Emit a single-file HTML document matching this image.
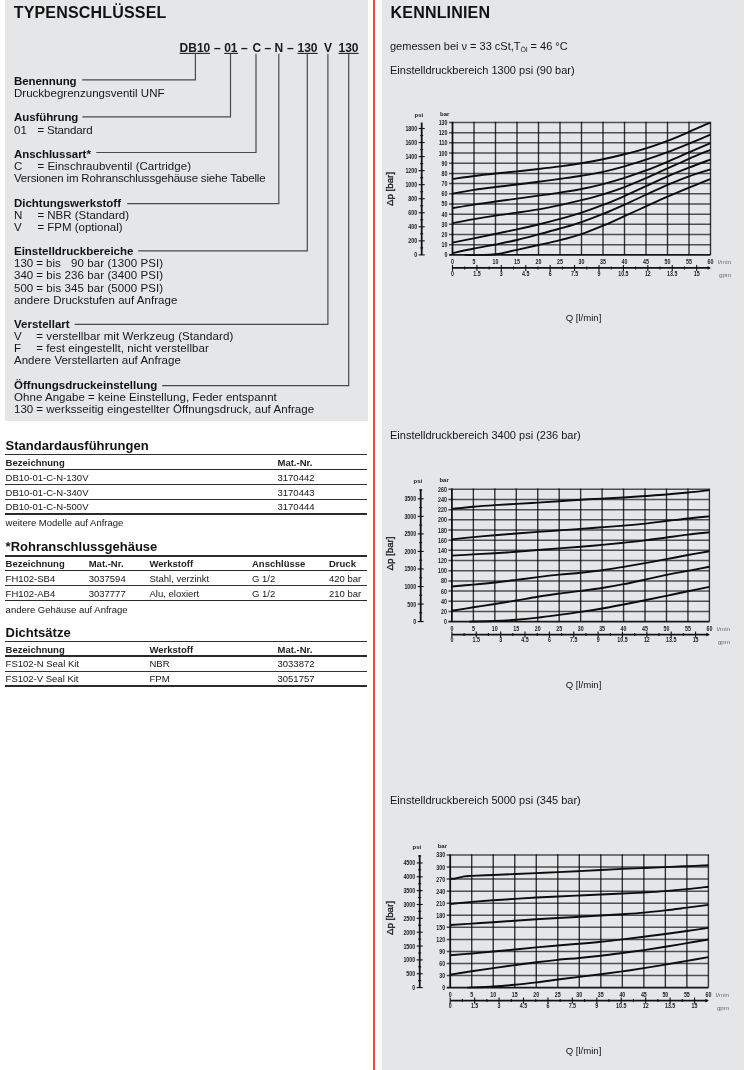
<!DOCTYPE html><html lang="de"><head><meta charset="utf-8"><title>Typenschlüssel / Kennlinien</title><style>
html,body{margin:0;padding:0;background:#fff;}
body{width:750px;height:1070px;position:relative;overflow:hidden;font-family:"Liberation Sans",Arial,Helvetica,sans-serif;}
.t{position:absolute;line-height:0;white-space:pre;}
.box{position:absolute;background:#e5e6e8;}
svg text{font-family:"Liberation Sans",Arial,Helvetica,sans-serif;}
.ax{font-size:6.8px;fill:#1a1a1a;font-weight:bold;}
.sm{font-size:6px;fill:#1a1a1a;font-weight:bold;}
.sm2{font-size:6.2px;fill:#6a6a6a;}
</style></head><body>
<div class="box" style="left:5px;top:0;width:363px;height:421px"></div>
<div class="box" style="left:382px;top:0;width:362px;height:1070px"></div>
<div style="position:absolute;left:373px;top:0;width:2px;height:1070px;background:#f44252"></div>
<div class="t" style="left:13.70px;top:13.16px;font-size:16px;font-weight:bold;color:#111;letter-spacing:0.181px;">TYPENSCHLÜSSEL</div>
<div class="t" style="left:179.60px;top:48.14px;font-size:12px;font-weight:bold;color:#1a1a1a;">DB10</div>
<div class="t" style="left:214.00px;top:48.14px;font-size:12px;font-weight:bold;color:#1a1a1a;">–</div>
<div class="t" style="left:224.20px;top:48.14px;font-size:12px;font-weight:bold;color:#1a1a1a;">01</div>
<div class="t" style="left:241.00px;top:48.14px;font-size:12px;font-weight:bold;color:#1a1a1a;">–</div>
<div class="t" style="left:252.40px;top:48.14px;font-size:12px;font-weight:bold;color:#1a1a1a;">C</div>
<div class="t" style="left:264.50px;top:48.14px;font-size:12px;font-weight:bold;color:#1a1a1a;">–</div>
<div class="t" style="left:274.50px;top:48.14px;font-size:12px;font-weight:bold;color:#1a1a1a;">N</div>
<div class="t" style="left:287.00px;top:48.14px;font-size:12px;font-weight:bold;color:#1a1a1a;">–</div>
<div class="t" style="left:297.50px;top:48.14px;font-size:12px;font-weight:bold;color:#1a1a1a;">130</div>
<div class="t" style="left:324.00px;top:48.14px;font-size:12px;font-weight:bold;color:#1a1a1a;">V</div>
<div class="t" style="left:338.50px;top:48.14px;font-size:12px;font-weight:bold;color:#1a1a1a;">130</div>
<svg style="position:absolute;left:0;top:0" width="375" height="430" viewBox="0 0 375 430">
<line x1="179.6" y1="53.4" x2="210.0" y2="53.4" stroke="#222" stroke-width="1.1"/>
<line x1="224.2" y1="53.4" x2="238.0" y2="53.4" stroke="#222" stroke-width="1.1"/>
<line x1="297.5" y1="53.4" x2="317.6" y2="53.4" stroke="#222" stroke-width="1.1"/>
<line x1="338.5" y1="53.4" x2="358.6" y2="53.4" stroke="#222" stroke-width="1.1"/>
<path d="M195.4,53.8 L195.4,79.8 L82.2,79.8" fill="none" stroke="#4a4a4a" stroke-width="1.2"/>
<path d="M230.5,53.8 L230.5,116.8 L82.4,116.8" fill="none" stroke="#4a4a4a" stroke-width="1.2"/>
<path d="M256,53.8 L256,152.5 L96.2,152.5" fill="none" stroke="#4a4a4a" stroke-width="1.2"/>
<path d="M278.8,53.8 L278.8,203.6 L127.2,203.6" fill="none" stroke="#4a4a4a" stroke-width="1.2"/>
<path d="M307.3,53.8 L307.3,250.8 L138.2,250.8" fill="none" stroke="#4a4a4a" stroke-width="1.2"/>
<path d="M327.9,53.8 L327.9,324.4 L74.6,324.4" fill="none" stroke="#4a4a4a" stroke-width="1.2"/>
<path d="M348.7,53.8 L348.7,385.6 L162.2,385.6" fill="none" stroke="#4a4a4a" stroke-width="1.2"/>
</svg>
<div class="t" style="left:14.00px;top:81.02px;font-size:11.5px;font-weight:bold;color:#111;letter-spacing:-0.081px;">Benennung</div>
<div class="t" style="left:14.00px;top:93.17px;font-size:11.5px;color:#161616;letter-spacing:0.012px;">Druckbegrenzungsventil UNF</div>
<div class="t" style="left:14.00px;top:117.47px;font-size:11.5px;font-weight:bold;color:#111;letter-spacing:-0.084px;">Ausführung</div>
<div class="t" style="left:14.00px;top:129.62px;font-size:11.5px;color:#161616;">01</div>
<div class="t" style="left:37.40px;top:129.62px;font-size:11.5px;color:#161616;letter-spacing:-0.155px;">= Standard</div>
<div class="t" style="left:14.00px;top:153.92px;font-size:11.5px;font-weight:bold;color:#111;letter-spacing:-0.037px;">Anschlussart*</div>
<div class="t" style="left:14.00px;top:166.07px;font-size:11.5px;color:#161616;">C</div>
<div class="t" style="left:37.40px;top:166.07px;font-size:11.5px;color:#161616;letter-spacing:0.040px;">= Einschraubventil (Cartridge)</div>
<div class="t" style="left:14.00px;top:178.22px;font-size:11.5px;color:#161616;letter-spacing:-0.182px;">Versionen im Rohranschlussgehäuse siehe Tabelle</div>
<div class="t" style="left:14.00px;top:202.52px;font-size:11.5px;font-weight:bold;color:#111;letter-spacing:-0.020px;">Dichtungswerkstoff</div>
<div class="t" style="left:14.00px;top:214.67px;font-size:11.5px;color:#161616;">N</div>
<div class="t" style="left:37.40px;top:214.67px;font-size:11.5px;color:#161616;letter-spacing:-0.009px;">= NBR (Standard)</div>
<div class="t" style="left:14.00px;top:226.82px;font-size:11.5px;color:#161616;">V</div>
<div class="t" style="left:37.40px;top:226.82px;font-size:11.5px;color:#161616;letter-spacing:-0.009px;">= FPM (optional)</div>
<div class="t" style="left:14.00px;top:251.12px;font-size:11.5px;font-weight:bold;color:#111;letter-spacing:-0.007px;">Einstelldruckbereiche</div>
<div class="t" style="left:14.00px;top:263.27px;font-size:11.5px;color:#161616;">130</div>
<div class="t" style="left:36.20px;top:263.27px;font-size:11.5px;color:#161616;">= bis</div>
<div class="t" style="left:71.00px;top:263.27px;font-size:11.5px;color:#161616;letter-spacing:0.089px;">90 bar (1300 PSI)</div>
<div class="t" style="left:14.00px;top:275.42px;font-size:11.5px;color:#161616;">340</div>
<div class="t" style="left:36.20px;top:275.42px;font-size:11.5px;color:#161616;letter-spacing:0.088px;">= bis 236 bar (3400 PSI)</div>
<div class="t" style="left:14.00px;top:287.57px;font-size:11.5px;color:#161616;">500</div>
<div class="t" style="left:36.20px;top:287.57px;font-size:11.5px;color:#161616;letter-spacing:0.088px;">= bis 345 bar (5000 PSI)</div>
<div class="t" style="left:14.00px;top:299.72px;font-size:11.5px;color:#161616;letter-spacing:0.031px;">andere Druckstufen auf Anfrage</div>
<div class="t" style="left:14.00px;top:324.02px;font-size:11.5px;font-weight:bold;color:#111;">Verstellart</div>
<div class="t" style="left:14.00px;top:336.17px;font-size:11.5px;color:#161616;">V</div>
<div class="t" style="left:36.20px;top:336.17px;font-size:11.5px;color:#161616;letter-spacing:0.093px;">= verstellbar mit Werkzeug (Standard)</div>
<div class="t" style="left:14.00px;top:348.32px;font-size:11.5px;color:#161616;">F</div>
<div class="t" style="left:36.20px;top:348.32px;font-size:11.5px;color:#161616;letter-spacing:0.062px;">= fest eingestellt, nicht verstellbar</div>
<div class="t" style="left:14.00px;top:360.47px;font-size:11.5px;color:#161616;letter-spacing:0.018px;">Andere Verstellarten auf Anfrage</div>
<div class="t" style="left:14.00px;top:384.77px;font-size:11.5px;font-weight:bold;color:#111;letter-spacing:0.008px;">Öffnungsdruckeinstellung</div>
<div class="t" style="left:14.00px;top:396.92px;font-size:11.5px;color:#161616;letter-spacing:0.048px;">Ohne Angabe = keine Einstellung, Feder entspannt</div>
<div class="t" style="left:14.00px;top:409.07px;font-size:11.5px;color:#161616;">130</div>
<div class="t" style="left:36.20px;top:409.07px;font-size:11.5px;color:#161616;letter-spacing:0.055px;">= werksseitig eingestellter Öffnungsdruck, auf Anfrage</div>
<div class="t" style="left:5.60px;top:446.10px;font-size:13px;font-weight:bold;color:#111;">Standardausführungen</div>
<div style="position:absolute;left:5px;top:454.10px;width:362px;height:1.4px;background:#2e2e2e"></div>
<div class="t" style="left:5.60px;top:463.01px;font-size:9.5px;font-weight:bold;color:#222;">Bezeichnung</div>
<div class="t" style="left:277.50px;top:463.01px;font-size:9.5px;font-weight:bold;color:#222;">Mat.-Nr.</div>
<div style="position:absolute;left:5px;top:468.75px;width:362px;height:1.5px;background:#2a2a2a"></div>
<div class="t" style="left:5.60px;top:477.71px;font-size:9.5px;color:#161616;">DB10-01-C-N-130V</div>
<div class="t" style="left:277.50px;top:477.71px;font-size:9.5px;color:#161616;">3170442</div>
<div style="position:absolute;left:5px;top:483.80px;width:362px;height:1.2px;background:#333"></div>
<div class="t" style="left:5.60px;top:492.51px;font-size:9.5px;color:#161616;">DB10-01-C-N-340V</div>
<div class="t" style="left:277.50px;top:492.51px;font-size:9.5px;color:#161616;">3170443</div>
<div style="position:absolute;left:5px;top:498.55px;width:362px;height:1.2px;background:#333"></div>
<div class="t" style="left:5.60px;top:507.31px;font-size:9.5px;color:#161616;">DB10-01-C-N-500V</div>
<div class="t" style="left:277.50px;top:507.31px;font-size:9.5px;color:#161616;">3170444</div>
<div style="position:absolute;left:5px;top:513.10px;width:362px;height:1.6px;background:#2a2a2a"></div>
<div class="t" style="left:5.60px;top:523.31px;font-size:9.5px;color:#161616;">weitere Modelle auf Anfrage</div>
<div class="t" style="left:5.60px;top:547.10px;font-size:13px;font-weight:bold;color:#111;">*Rohranschlussgehäuse</div>
<div style="position:absolute;left:5px;top:555.20px;width:362px;height:1.4px;background:#2e2e2e"></div>
<div class="t" style="left:5.60px;top:564.21px;font-size:9.5px;font-weight:bold;color:#222;">Bezeichnung</div>
<div class="t" style="left:88.70px;top:564.21px;font-size:9.5px;font-weight:bold;color:#222;">Mat.-Nr.</div>
<div class="t" style="left:149.50px;top:564.21px;font-size:9.5px;font-weight:bold;color:#222;">Werkstoff</div>
<div class="t" style="left:252.00px;top:564.21px;font-size:9.5px;font-weight:bold;color:#222;">Anschlüsse</div>
<div class="t" style="left:329.00px;top:564.21px;font-size:9.5px;font-weight:bold;color:#222;">Druck</div>
<div style="position:absolute;left:5px;top:569.75px;width:362px;height:1.5px;background:#2a2a2a"></div>
<div class="t" style="left:5.60px;top:578.91px;font-size:9.5px;color:#161616;">FH102-SB4</div>
<div class="t" style="left:88.70px;top:578.91px;font-size:9.5px;color:#161616;">3037594</div>
<div class="t" style="left:149.50px;top:578.91px;font-size:9.5px;color:#161616;">Stahl, verzinkt</div>
<div class="t" style="left:252.00px;top:578.91px;font-size:9.5px;color:#161616;">G 1/2</div>
<div class="t" style="left:329.00px;top:578.91px;font-size:9.5px;color:#161616;">420 bar</div>
<div class="t" style="left:5.60px;top:593.91px;font-size:9.5px;color:#161616;">FH102-AB4</div>
<div class="t" style="left:88.70px;top:593.91px;font-size:9.5px;color:#161616;">3037777</div>
<div class="t" style="left:149.50px;top:593.91px;font-size:9.5px;color:#161616;">Alu, eloxiert</div>
<div class="t" style="left:252.00px;top:593.91px;font-size:9.5px;color:#161616;">G 1/2</div>
<div class="t" style="left:329.00px;top:593.91px;font-size:9.5px;color:#161616;">210 bar</div>
<div style="position:absolute;left:5px;top:584.70px;width:362px;height:1.2px;background:#333"></div>
<div style="position:absolute;left:5px;top:599.60px;width:362px;height:1.6px;background:#2a2a2a"></div>
<div class="t" style="left:5.60px;top:609.81px;font-size:9.5px;color:#161616;">andere Gehäuse auf Anfrage</div>
<div class="t" style="left:5.60px;top:632.80px;font-size:13px;font-weight:bold;color:#111;">Dichtsätze</div>
<div style="position:absolute;left:5px;top:640.90px;width:362px;height:1.4px;background:#2e2e2e"></div>
<div class="t" style="left:5.60px;top:649.91px;font-size:9.5px;font-weight:bold;color:#222;">Bezeichnung</div>
<div class="t" style="left:149.50px;top:649.91px;font-size:9.5px;font-weight:bold;color:#222;">Werkstoff</div>
<div class="t" style="left:277.50px;top:649.91px;font-size:9.5px;font-weight:bold;color:#222;">Mat.-Nr.</div>
<div style="position:absolute;left:5px;top:655.45px;width:362px;height:1.5px;background:#2a2a2a"></div>
<div class="t" style="left:5.60px;top:664.41px;font-size:9.5px;color:#161616;">FS102-N Seal Kit</div>
<div class="t" style="left:149.50px;top:664.41px;font-size:9.5px;color:#161616;">NBR</div>
<div class="t" style="left:277.50px;top:664.41px;font-size:9.5px;color:#161616;">3033872</div>
<div class="t" style="left:5.60px;top:679.11px;font-size:9.5px;color:#161616;">FS102-V Seal Kit</div>
<div class="t" style="left:149.50px;top:679.11px;font-size:9.5px;color:#161616;">FPM</div>
<div class="t" style="left:277.50px;top:679.11px;font-size:9.5px;color:#161616;">3051757</div>
<div style="position:absolute;left:5px;top:670.60px;width:362px;height:1.2px;background:#333"></div>
<div style="position:absolute;left:5px;top:685.10px;width:362px;height:1.6px;background:#2a2a2a"></div>
<div class="t" style="left:390.60px;top:12.86px;font-size:16px;font-weight:bold;color:#111;letter-spacing:0.180px;">KENNLINIEN</div>
<svg style="position:absolute;left:0;top:0" width="750" height="1070" viewBox="0 0 750 1070">
<text x="390" y="49.9" font-size="11" fill="#161616">gemessen bei ν = 33 cSt,T<tspan font-size="7" dy="2.5">Öl</tspan><tspan dy="-2.5"> = 46 °C</tspan></text>
<text x="390" y="74.1" font-size="11" fill="#161616">Einstelldruckbereich 1300 psi (90 bar)</text>
<text x="414.5" y="116.5" class="sm">psi</text>
<text x="440.0" y="115.5" class="sm">bar</text>
<line x1="449.0" y1="254.90" x2="710.5" y2="254.90" stroke="#000" stroke-opacity="0.9" stroke-width="1.7"/>
<text x="447.5" y="257.40" class="ax" text-anchor="end" transform="translate(447.50,0) scale(0.78,1) translate(-447.50,0)">0</text>
<line x1="449.0" y1="244.72" x2="710.5" y2="244.72" stroke="#000" stroke-opacity="0.66" stroke-width="1.5"/>
<text x="447.5" y="247.22" class="ax" text-anchor="end" transform="translate(447.50,0) scale(0.78,1) translate(-447.50,0)">10</text>
<line x1="449.0" y1="234.53" x2="710.5" y2="234.53" stroke="#000" stroke-opacity="0.66" stroke-width="1.5"/>
<text x="447.5" y="237.03" class="ax" text-anchor="end" transform="translate(447.50,0) scale(0.78,1) translate(-447.50,0)">20</text>
<line x1="449.0" y1="224.35" x2="710.5" y2="224.35" stroke="#000" stroke-opacity="0.66" stroke-width="1.5"/>
<text x="447.5" y="226.85" class="ax" text-anchor="end" transform="translate(447.50,0) scale(0.78,1) translate(-447.50,0)">30</text>
<line x1="449.0" y1="214.16" x2="710.5" y2="214.16" stroke="#000" stroke-opacity="0.66" stroke-width="1.5"/>
<text x="447.5" y="216.66" class="ax" text-anchor="end" transform="translate(447.50,0) scale(0.78,1) translate(-447.50,0)">40</text>
<line x1="449.0" y1="203.98" x2="710.5" y2="203.98" stroke="#000" stroke-opacity="0.66" stroke-width="1.5"/>
<text x="447.5" y="206.48" class="ax" text-anchor="end" transform="translate(447.50,0) scale(0.78,1) translate(-447.50,0)">50</text>
<line x1="449.0" y1="193.79" x2="710.5" y2="193.79" stroke="#000" stroke-opacity="0.66" stroke-width="1.5"/>
<text x="447.5" y="196.29" class="ax" text-anchor="end" transform="translate(447.50,0) scale(0.78,1) translate(-447.50,0)">60</text>
<line x1="449.0" y1="183.61" x2="710.5" y2="183.61" stroke="#000" stroke-opacity="0.66" stroke-width="1.5"/>
<text x="447.5" y="186.11" class="ax" text-anchor="end" transform="translate(447.50,0) scale(0.78,1) translate(-447.50,0)">70</text>
<line x1="449.0" y1="173.42" x2="710.5" y2="173.42" stroke="#000" stroke-opacity="0.66" stroke-width="1.5"/>
<text x="447.5" y="175.92" class="ax" text-anchor="end" transform="translate(447.50,0) scale(0.78,1) translate(-447.50,0)">80</text>
<line x1="449.0" y1="163.24" x2="710.5" y2="163.24" stroke="#000" stroke-opacity="0.66" stroke-width="1.5"/>
<text x="447.5" y="165.74" class="ax" text-anchor="end" transform="translate(447.50,0) scale(0.78,1) translate(-447.50,0)">90</text>
<line x1="449.0" y1="153.05" x2="710.5" y2="153.05" stroke="#000" stroke-opacity="0.66" stroke-width="1.5"/>
<text x="447.5" y="155.55" class="ax" text-anchor="end" transform="translate(447.50,0) scale(0.78,1) translate(-447.50,0)">100</text>
<line x1="449.0" y1="142.87" x2="710.5" y2="142.87" stroke="#000" stroke-opacity="0.66" stroke-width="1.5"/>
<text x="447.5" y="145.37" class="ax" text-anchor="end" transform="translate(447.50,0) scale(0.78,1) translate(-447.50,0)">110</text>
<line x1="449.0" y1="132.68" x2="710.5" y2="132.68" stroke="#000" stroke-opacity="0.66" stroke-width="1.5"/>
<text x="447.5" y="135.18" class="ax" text-anchor="end" transform="translate(447.50,0) scale(0.78,1) translate(-447.50,0)">120</text>
<line x1="449.0" y1="122.50" x2="710.5" y2="122.50" stroke="#000" stroke-opacity="0.66" stroke-width="1.5"/>
<text x="447.5" y="125.00" class="ax" text-anchor="end" transform="translate(447.50,0) scale(0.78,1) translate(-447.50,0)">130</text>
<line x1="452.50" y1="121.8" x2="452.50" y2="254.9" stroke="#000" stroke-opacity="0.92" stroke-width="1.8"/>
<text x="452.50" y="263.90" class="ax" text-anchor="middle" transform="translate(452.50,0) scale(0.78,1) translate(-452.50,0)">0</text>
<line x1="474.00" y1="121.8" x2="474.00" y2="254.9" stroke="#000" stroke-opacity="0.78" stroke-width="1.4"/>
<text x="474.00" y="263.90" class="ax" text-anchor="middle" transform="translate(474.00,0) scale(0.78,1) translate(-474.00,0)">5</text>
<line x1="495.50" y1="121.8" x2="495.50" y2="254.9" stroke="#000" stroke-opacity="0.78" stroke-width="1.4"/>
<text x="495.50" y="263.90" class="ax" text-anchor="middle" transform="translate(495.50,0) scale(0.78,1) translate(-495.50,0)">10</text>
<line x1="517.00" y1="121.8" x2="517.00" y2="254.9" stroke="#000" stroke-opacity="0.78" stroke-width="1.4"/>
<text x="517.00" y="263.90" class="ax" text-anchor="middle" transform="translate(517.00,0) scale(0.78,1) translate(-517.00,0)">15</text>
<line x1="538.50" y1="121.8" x2="538.50" y2="254.9" stroke="#000" stroke-opacity="0.78" stroke-width="1.4"/>
<text x="538.50" y="263.90" class="ax" text-anchor="middle" transform="translate(538.50,0) scale(0.78,1) translate(-538.50,0)">20</text>
<line x1="560.00" y1="121.8" x2="560.00" y2="254.9" stroke="#000" stroke-opacity="0.78" stroke-width="1.4"/>
<text x="560.00" y="263.90" class="ax" text-anchor="middle" transform="translate(560.00,0) scale(0.78,1) translate(-560.00,0)">25</text>
<line x1="581.50" y1="121.8" x2="581.50" y2="254.9" stroke="#000" stroke-opacity="0.78" stroke-width="1.4"/>
<text x="581.50" y="263.90" class="ax" text-anchor="middle" transform="translate(581.50,0) scale(0.78,1) translate(-581.50,0)">30</text>
<line x1="603.00" y1="121.8" x2="603.00" y2="254.9" stroke="#000" stroke-opacity="0.78" stroke-width="1.4"/>
<text x="603.00" y="263.90" class="ax" text-anchor="middle" transform="translate(603.00,0) scale(0.78,1) translate(-603.00,0)">35</text>
<line x1="624.50" y1="121.8" x2="624.50" y2="254.9" stroke="#000" stroke-opacity="0.78" stroke-width="1.4"/>
<text x="624.50" y="263.90" class="ax" text-anchor="middle" transform="translate(624.50,0) scale(0.78,1) translate(-624.50,0)">40</text>
<line x1="646.00" y1="121.8" x2="646.00" y2="254.9" stroke="#000" stroke-opacity="0.78" stroke-width="1.4"/>
<text x="646.00" y="263.90" class="ax" text-anchor="middle" transform="translate(646.00,0) scale(0.78,1) translate(-646.00,0)">45</text>
<line x1="667.50" y1="121.8" x2="667.50" y2="254.9" stroke="#000" stroke-opacity="0.78" stroke-width="1.4"/>
<text x="667.50" y="263.90" class="ax" text-anchor="middle" transform="translate(667.50,0) scale(0.78,1) translate(-667.50,0)">50</text>
<line x1="689.00" y1="121.8" x2="689.00" y2="254.9" stroke="#000" stroke-opacity="0.78" stroke-width="1.4"/>
<text x="689.00" y="263.90" class="ax" text-anchor="middle" transform="translate(689.00,0) scale(0.78,1) translate(-689.00,0)">55</text>
<line x1="710.50" y1="121.8" x2="710.50" y2="254.9" stroke="#000" stroke-opacity="0.78" stroke-width="1.4"/>
<text x="710.50" y="263.90" class="ax" text-anchor="middle" transform="translate(710.50,0) scale(0.78,1) translate(-710.50,0)">60</text>
<text x="718.0" y="264.40" class="sm2">l/min</text>
<line x1="452.5" y1="267.9" x2="709.5" y2="267.9" stroke="#111" stroke-width="1.6"/>
<path d="M707.5,266.09999999999997 L711.0,267.9 L707.5,269.7 Z" fill="#111"/>
<line x1="452.50" y1="264.9" x2="452.50" y2="270.9" stroke="#111" stroke-width="1.1"/>
<text x="452.50" y="275.70" class="ax" text-anchor="middle" transform="translate(452.50,0) scale(0.78,1) translate(-452.50,0)">0</text>
<line x1="464.71" y1="266.4" x2="464.71" y2="269.4" stroke="#111" stroke-width="1.1"/>
<line x1="476.92" y1="264.9" x2="476.92" y2="270.9" stroke="#111" stroke-width="1.1"/>
<text x="476.92" y="275.70" class="ax" text-anchor="middle" transform="translate(476.92,0) scale(0.78,1) translate(-476.92,0)">1.5</text>
<line x1="489.12" y1="266.4" x2="489.12" y2="269.4" stroke="#111" stroke-width="1.1"/>
<line x1="501.33" y1="264.9" x2="501.33" y2="270.9" stroke="#111" stroke-width="1.1"/>
<text x="501.33" y="275.70" class="ax" text-anchor="middle" transform="translate(501.33,0) scale(0.78,1) translate(-501.33,0)">3</text>
<line x1="513.54" y1="266.4" x2="513.54" y2="269.4" stroke="#111" stroke-width="1.1"/>
<line x1="525.75" y1="264.9" x2="525.75" y2="270.9" stroke="#111" stroke-width="1.1"/>
<text x="525.75" y="275.70" class="ax" text-anchor="middle" transform="translate(525.75,0) scale(0.78,1) translate(-525.75,0)">4.5</text>
<line x1="537.96" y1="266.4" x2="537.96" y2="269.4" stroke="#111" stroke-width="1.1"/>
<line x1="550.16" y1="264.9" x2="550.16" y2="270.9" stroke="#111" stroke-width="1.1"/>
<text x="550.16" y="275.70" class="ax" text-anchor="middle" transform="translate(550.16,0) scale(0.78,1) translate(-550.16,0)">6</text>
<line x1="562.37" y1="266.4" x2="562.37" y2="269.4" stroke="#111" stroke-width="1.1"/>
<line x1="574.58" y1="264.9" x2="574.58" y2="270.9" stroke="#111" stroke-width="1.1"/>
<text x="574.58" y="275.70" class="ax" text-anchor="middle" transform="translate(574.58,0) scale(0.78,1) translate(-574.58,0)">7.5</text>
<line x1="586.79" y1="266.4" x2="586.79" y2="269.4" stroke="#111" stroke-width="1.1"/>
<line x1="599.00" y1="264.9" x2="599.00" y2="270.9" stroke="#111" stroke-width="1.1"/>
<text x="599.00" y="275.70" class="ax" text-anchor="middle" transform="translate(599.00,0) scale(0.78,1) translate(-599.00,0)">9</text>
<line x1="611.20" y1="266.4" x2="611.20" y2="269.4" stroke="#111" stroke-width="1.1"/>
<line x1="623.41" y1="264.9" x2="623.41" y2="270.9" stroke="#111" stroke-width="1.1"/>
<text x="623.41" y="275.70" class="ax" text-anchor="middle" transform="translate(623.41,0) scale(0.78,1) translate(-623.41,0)">10.5</text>
<line x1="635.62" y1="266.4" x2="635.62" y2="269.4" stroke="#111" stroke-width="1.1"/>
<line x1="647.83" y1="264.9" x2="647.83" y2="270.9" stroke="#111" stroke-width="1.1"/>
<text x="647.83" y="275.70" class="ax" text-anchor="middle" transform="translate(647.83,0) scale(0.78,1) translate(-647.83,0)">12</text>
<line x1="660.04" y1="266.4" x2="660.04" y2="269.4" stroke="#111" stroke-width="1.1"/>
<line x1="672.24" y1="264.9" x2="672.24" y2="270.9" stroke="#111" stroke-width="1.1"/>
<text x="672.24" y="275.70" class="ax" text-anchor="middle" transform="translate(672.24,0) scale(0.78,1) translate(-672.24,0)">13.5</text>
<line x1="684.45" y1="266.4" x2="684.45" y2="269.4" stroke="#111" stroke-width="1.1"/>
<line x1="696.66" y1="264.9" x2="696.66" y2="270.9" stroke="#111" stroke-width="1.1"/>
<text x="696.66" y="275.70" class="ax" text-anchor="middle" transform="translate(696.66,0) scale(0.78,1) translate(-696.66,0)">15</text>
<text x="719.0" y="276.90" class="sm2">gpm</text>
<line x1="421.7" y1="122.5" x2="421.7" y2="254.9" stroke="#111" stroke-width="1.8"/>
<line x1="418.7" y1="254.90" x2="424.7" y2="254.90" stroke="#111" stroke-width="1.1"/>
<text x="417.2" y="257.40" class="ax" text-anchor="end" transform="translate(417.20,0) scale(0.78,1) translate(-417.20,0)">0</text>
<line x1="420.2" y1="247.88" x2="423.2" y2="247.88" stroke="#111" stroke-width="1.1"/>
<line x1="418.7" y1="240.86" x2="424.7" y2="240.86" stroke="#111" stroke-width="1.1"/>
<text x="417.2" y="243.36" class="ax" text-anchor="end" transform="translate(417.20,0) scale(0.78,1) translate(-417.20,0)">200</text>
<line x1="420.2" y1="233.83" x2="423.2" y2="233.83" stroke="#111" stroke-width="1.1"/>
<line x1="418.7" y1="226.81" x2="424.7" y2="226.81" stroke="#111" stroke-width="1.1"/>
<text x="417.2" y="229.31" class="ax" text-anchor="end" transform="translate(417.20,0) scale(0.78,1) translate(-417.20,0)">400</text>
<line x1="420.2" y1="219.79" x2="423.2" y2="219.79" stroke="#111" stroke-width="1.1"/>
<line x1="418.7" y1="212.77" x2="424.7" y2="212.77" stroke="#111" stroke-width="1.1"/>
<text x="417.2" y="215.27" class="ax" text-anchor="end" transform="translate(417.20,0) scale(0.78,1) translate(-417.20,0)">600</text>
<line x1="420.2" y1="205.75" x2="423.2" y2="205.75" stroke="#111" stroke-width="1.1"/>
<line x1="418.7" y1="198.72" x2="424.7" y2="198.72" stroke="#111" stroke-width="1.1"/>
<text x="417.2" y="201.22" class="ax" text-anchor="end" transform="translate(417.20,0) scale(0.78,1) translate(-417.20,0)">800</text>
<line x1="420.2" y1="191.70" x2="423.2" y2="191.70" stroke="#111" stroke-width="1.1"/>
<line x1="418.7" y1="184.68" x2="424.7" y2="184.68" stroke="#111" stroke-width="1.1"/>
<text x="417.2" y="187.18" class="ax" text-anchor="end" transform="translate(417.20,0) scale(0.78,1) translate(-417.20,0)">1000</text>
<line x1="420.2" y1="177.66" x2="423.2" y2="177.66" stroke="#111" stroke-width="1.1"/>
<line x1="418.7" y1="170.64" x2="424.7" y2="170.64" stroke="#111" stroke-width="1.1"/>
<text x="417.2" y="173.14" class="ax" text-anchor="end" transform="translate(417.20,0) scale(0.78,1) translate(-417.20,0)">1200</text>
<line x1="420.2" y1="163.61" x2="423.2" y2="163.61" stroke="#111" stroke-width="1.1"/>
<line x1="418.7" y1="156.59" x2="424.7" y2="156.59" stroke="#111" stroke-width="1.1"/>
<text x="417.2" y="159.09" class="ax" text-anchor="end" transform="translate(417.20,0) scale(0.78,1) translate(-417.20,0)">1400</text>
<line x1="420.2" y1="149.57" x2="423.2" y2="149.57" stroke="#111" stroke-width="1.1"/>
<line x1="418.7" y1="142.55" x2="424.7" y2="142.55" stroke="#111" stroke-width="1.1"/>
<text x="417.2" y="145.05" class="ax" text-anchor="end" transform="translate(417.20,0) scale(0.78,1) translate(-417.20,0)">1600</text>
<line x1="420.2" y1="135.53" x2="423.2" y2="135.53" stroke="#111" stroke-width="1.1"/>
<line x1="418.7" y1="128.50" x2="424.7" y2="128.50" stroke="#111" stroke-width="1.1"/>
<text x="417.2" y="131.00" class="ax" text-anchor="end" transform="translate(417.20,0) scale(0.78,1) translate(-417.20,0)">1800</text>
<path d="M452.50,178.92 C456.08,178.43 466.83,176.87 474.00,175.97 C481.17,175.07 488.33,174.29 495.50,173.52 C502.67,172.76 509.83,172.12 517.00,171.36 C524.17,170.61 531.33,169.82 538.50,168.99 C545.67,168.16 552.83,167.32 560.00,166.37 C567.17,165.42 574.33,164.50 581.50,163.31 C588.67,162.13 595.83,160.77 603.00,159.27 C610.17,157.76 617.33,156.09 624.50,154.28 C631.67,152.46 638.83,150.61 646.00,148.37 C653.17,146.13 660.33,143.60 667.50,140.86 C674.67,138.12 681.83,134.98 689.00,131.92 C696.17,128.86 706.92,124.07 710.50,122.50" fill="none" stroke="#0d0d0d" stroke-width="1.9" stroke-linejoin="round"/>
<path d="M452.50,193.59 C456.08,192.97 466.83,190.97 474.00,189.87 C481.17,188.78 488.33,187.91 495.50,187.02 C502.67,186.13 509.83,185.39 517.00,184.52 C524.17,183.65 531.33,182.75 538.50,181.80 C545.67,180.85 552.83,179.84 560.00,178.82 C567.17,177.81 574.33,176.87 581.50,175.71 C588.67,174.56 595.83,173.42 603.00,171.87 C610.17,170.32 617.33,168.45 624.50,166.42 C631.67,164.40 638.83,162.10 646.00,159.72 C653.17,157.35 660.33,154.85 667.50,152.16 C674.67,149.47 681.83,146.51 689.00,143.58 C696.17,140.66 706.92,136.11 710.50,134.62" fill="none" stroke="#0d0d0d" stroke-width="1.9" stroke-linejoin="round"/>
<path d="M452.50,208.15 C456.08,207.56 466.83,205.70 474.00,204.59 C481.17,203.48 488.33,202.50 495.50,201.51 C502.67,200.52 509.83,199.63 517.00,198.66 C524.17,197.68 531.33,196.67 538.50,195.65 C545.67,194.64 552.83,193.68 560.00,192.57 C567.17,191.46 574.33,190.40 581.50,188.98 C588.67,187.56 595.83,185.93 603.00,184.07 C610.17,182.20 617.33,180.08 624.50,177.80 C631.67,175.52 638.83,173.06 646.00,170.39 C653.17,167.72 660.33,164.78 667.50,161.79 C674.67,158.79 681.83,155.54 689.00,152.42 C696.17,149.30 706.92,144.63 710.50,143.07" fill="none" stroke="#0d0d0d" stroke-width="1.9" stroke-linejoin="round"/>
<path d="M452.50,223.12 C456.08,222.45 466.83,220.34 474.00,219.10 C481.17,217.86 488.33,216.73 495.50,215.66 C502.67,214.59 509.83,213.74 517.00,212.68 C524.17,211.63 531.33,210.62 538.50,209.35 C545.67,208.08 552.83,206.60 560.00,205.07 C567.17,203.54 574.33,201.94 581.50,200.16 C588.67,198.38 595.83,196.56 603.00,194.38 C610.17,192.20 617.33,189.77 624.50,187.07 C631.67,184.38 638.83,181.32 646.00,178.21 C653.17,175.10 660.33,171.65 667.50,168.41 C674.67,165.17 681.83,161.86 689.00,158.76 C696.17,155.66 706.92,151.29 710.50,149.79" fill="none" stroke="#0d0d0d" stroke-width="1.9" stroke-linejoin="round"/>
<path d="M452.50,242.58 C456.08,241.87 466.83,239.78 474.00,238.32 C481.17,236.87 488.33,235.33 495.50,233.84 C502.67,232.35 509.83,230.94 517.00,229.39 C524.17,227.83 531.33,226.24 538.50,224.50 C545.67,222.76 552.83,220.92 560.00,218.95 C567.17,216.98 574.33,215.01 581.50,212.68 C588.67,210.36 595.83,207.75 603.00,204.97 C610.17,202.19 617.33,199.14 624.50,196.01 C631.67,192.88 638.83,189.47 646.00,186.18 C653.17,182.89 660.33,179.39 667.50,176.27 C674.67,173.16 681.83,170.30 689.00,167.52 C696.17,164.73 706.92,160.90 710.50,159.57" fill="none" stroke="#0d0d0d" stroke-width="1.9" stroke-linejoin="round"/>
<path d="M452.50,253.07 C456.08,252.30 466.83,249.92 474.00,248.48 C481.17,247.05 488.33,245.87 495.50,244.46 C502.67,243.05 509.83,241.70 517.00,240.03 C524.17,238.36 531.33,236.35 538.50,234.43 C545.67,232.51 552.83,230.58 560.00,228.52 C567.17,226.46 574.33,224.49 581.50,222.05 C588.67,219.62 595.83,216.82 603.00,213.91 C610.17,211.00 617.33,207.78 624.50,204.59 C631.67,201.40 638.83,198.04 646.00,194.76 C653.17,191.48 660.33,188.00 667.50,184.93 C674.67,181.86 681.83,178.92 689.00,176.33 C696.17,173.73 706.92,170.51 710.50,169.35" fill="none" stroke="#0d0d0d" stroke-width="1.9" stroke-linejoin="round"/>
<path d="M464.54,254.90 C466.83,254.90 473.14,255.00 478.30,254.90 C483.46,254.80 489.05,255.13 495.50,254.29 C501.95,253.44 509.83,251.37 517.00,249.83 C524.17,248.29 531.33,246.65 538.50,245.05 C545.67,243.44 552.83,242.01 560.00,240.18 C567.17,238.36 574.33,236.51 581.50,234.10 C588.67,231.68 595.83,228.70 603.00,225.70 C610.17,222.70 617.33,219.32 624.50,216.10 C631.67,212.88 638.83,209.60 646.00,206.37 C653.17,203.14 660.33,199.85 667.50,196.72 C674.67,193.59 681.83,190.55 689.00,187.61 C696.17,184.66 706.92,180.45 710.50,179.02" fill="none" stroke="#0d0d0d" stroke-width="1.9" stroke-linejoin="round"/>
<text x="0" y="0" font-size="9.7" fill="#161616" stroke="#161616" stroke-width="0.3" text-anchor="middle" transform="translate(393.2,189.00) rotate(-90)">Δp [bar]</text>
<text x="583.5" y="320.90" font-size="9.6" fill="#161616" text-anchor="middle">Q [l/min]</text>
<text x="390" y="439.2" font-size="11" fill="#161616">Einstelldruckbereich 3400 psi (236 bar)</text>
<text x="413.5" y="483.3" class="sm">psi</text>
<text x="439.4" y="482.3" class="sm">bar</text>
<line x1="448.4" y1="621.60" x2="709.4" y2="621.60" stroke="#000" stroke-opacity="0.9" stroke-width="1.7"/>
<text x="446.9" y="624.10" class="ax" text-anchor="end" transform="translate(446.90,0) scale(0.78,1) translate(-446.90,0)">0</text>
<line x1="448.4" y1="611.42" x2="709.4" y2="611.42" stroke="#000" stroke-opacity="0.66" stroke-width="1.5"/>
<text x="446.9" y="613.92" class="ax" text-anchor="end" transform="translate(446.90,0) scale(0.78,1) translate(-446.90,0)">20</text>
<line x1="448.4" y1="601.25" x2="709.4" y2="601.25" stroke="#000" stroke-opacity="0.66" stroke-width="1.5"/>
<text x="446.9" y="603.75" class="ax" text-anchor="end" transform="translate(446.90,0) scale(0.78,1) translate(-446.90,0)">40</text>
<line x1="448.4" y1="591.07" x2="709.4" y2="591.07" stroke="#000" stroke-opacity="0.66" stroke-width="1.5"/>
<text x="446.9" y="593.57" class="ax" text-anchor="end" transform="translate(446.90,0) scale(0.78,1) translate(-446.90,0)">60</text>
<line x1="448.4" y1="580.89" x2="709.4" y2="580.89" stroke="#000" stroke-opacity="0.66" stroke-width="1.5"/>
<text x="446.9" y="583.39" class="ax" text-anchor="end" transform="translate(446.90,0) scale(0.78,1) translate(-446.90,0)">80</text>
<line x1="448.4" y1="570.72" x2="709.4" y2="570.72" stroke="#000" stroke-opacity="0.66" stroke-width="1.5"/>
<text x="446.9" y="573.22" class="ax" text-anchor="end" transform="translate(446.90,0) scale(0.78,1) translate(-446.90,0)">100</text>
<line x1="448.4" y1="560.54" x2="709.4" y2="560.54" stroke="#000" stroke-opacity="0.66" stroke-width="1.5"/>
<text x="446.9" y="563.04" class="ax" text-anchor="end" transform="translate(446.90,0) scale(0.78,1) translate(-446.90,0)">120</text>
<line x1="448.4" y1="550.36" x2="709.4" y2="550.36" stroke="#000" stroke-opacity="0.66" stroke-width="1.5"/>
<text x="446.9" y="552.86" class="ax" text-anchor="end" transform="translate(446.90,0) scale(0.78,1) translate(-446.90,0)">140</text>
<line x1="448.4" y1="540.18" x2="709.4" y2="540.18" stroke="#000" stroke-opacity="0.66" stroke-width="1.5"/>
<text x="446.9" y="542.68" class="ax" text-anchor="end" transform="translate(446.90,0) scale(0.78,1) translate(-446.90,0)">160</text>
<line x1="448.4" y1="530.01" x2="709.4" y2="530.01" stroke="#000" stroke-opacity="0.66" stroke-width="1.5"/>
<text x="446.9" y="532.51" class="ax" text-anchor="end" transform="translate(446.90,0) scale(0.78,1) translate(-446.90,0)">180</text>
<line x1="448.4" y1="519.83" x2="709.4" y2="519.83" stroke="#000" stroke-opacity="0.66" stroke-width="1.5"/>
<text x="446.9" y="522.33" class="ax" text-anchor="end" transform="translate(446.90,0) scale(0.78,1) translate(-446.90,0)">200</text>
<line x1="448.4" y1="509.65" x2="709.4" y2="509.65" stroke="#000" stroke-opacity="0.66" stroke-width="1.5"/>
<text x="446.9" y="512.15" class="ax" text-anchor="end" transform="translate(446.90,0) scale(0.78,1) translate(-446.90,0)">220</text>
<line x1="448.4" y1="499.48" x2="709.4" y2="499.48" stroke="#000" stroke-opacity="0.66" stroke-width="1.5"/>
<text x="446.9" y="501.98" class="ax" text-anchor="end" transform="translate(446.90,0) scale(0.78,1) translate(-446.90,0)">240</text>
<line x1="448.4" y1="489.30" x2="709.4" y2="489.30" stroke="#000" stroke-opacity="0.66" stroke-width="1.5"/>
<text x="446.9" y="491.80" class="ax" text-anchor="end" transform="translate(446.90,0) scale(0.78,1) translate(-446.90,0)">260</text>
<line x1="451.90" y1="488.6" x2="451.90" y2="621.6" stroke="#000" stroke-opacity="0.92" stroke-width="1.8"/>
<text x="451.90" y="630.60" class="ax" text-anchor="middle" transform="translate(451.90,0) scale(0.78,1) translate(-451.90,0)">0</text>
<line x1="473.36" y1="488.6" x2="473.36" y2="621.6" stroke="#000" stroke-opacity="0.78" stroke-width="1.4"/>
<text x="473.36" y="630.60" class="ax" text-anchor="middle" transform="translate(473.36,0) scale(0.78,1) translate(-473.36,0)">5</text>
<line x1="494.82" y1="488.6" x2="494.82" y2="621.6" stroke="#000" stroke-opacity="0.78" stroke-width="1.4"/>
<text x="494.82" y="630.60" class="ax" text-anchor="middle" transform="translate(494.82,0) scale(0.78,1) translate(-494.82,0)">10</text>
<line x1="516.27" y1="488.6" x2="516.27" y2="621.6" stroke="#000" stroke-opacity="0.78" stroke-width="1.4"/>
<text x="516.27" y="630.60" class="ax" text-anchor="middle" transform="translate(516.27,0) scale(0.78,1) translate(-516.27,0)">15</text>
<line x1="537.73" y1="488.6" x2="537.73" y2="621.6" stroke="#000" stroke-opacity="0.78" stroke-width="1.4"/>
<text x="537.73" y="630.60" class="ax" text-anchor="middle" transform="translate(537.73,0) scale(0.78,1) translate(-537.73,0)">20</text>
<line x1="559.19" y1="488.6" x2="559.19" y2="621.6" stroke="#000" stroke-opacity="0.78" stroke-width="1.4"/>
<text x="559.19" y="630.60" class="ax" text-anchor="middle" transform="translate(559.19,0) scale(0.78,1) translate(-559.19,0)">25</text>
<line x1="580.65" y1="488.6" x2="580.65" y2="621.6" stroke="#000" stroke-opacity="0.78" stroke-width="1.4"/>
<text x="580.65" y="630.60" class="ax" text-anchor="middle" transform="translate(580.65,0) scale(0.78,1) translate(-580.65,0)">30</text>
<line x1="602.11" y1="488.6" x2="602.11" y2="621.6" stroke="#000" stroke-opacity="0.78" stroke-width="1.4"/>
<text x="602.11" y="630.60" class="ax" text-anchor="middle" transform="translate(602.11,0) scale(0.78,1) translate(-602.11,0)">35</text>
<line x1="623.57" y1="488.6" x2="623.57" y2="621.6" stroke="#000" stroke-opacity="0.78" stroke-width="1.4"/>
<text x="623.57" y="630.60" class="ax" text-anchor="middle" transform="translate(623.57,0) scale(0.78,1) translate(-623.57,0)">40</text>
<line x1="645.02" y1="488.6" x2="645.02" y2="621.6" stroke="#000" stroke-opacity="0.78" stroke-width="1.4"/>
<text x="645.02" y="630.60" class="ax" text-anchor="middle" transform="translate(645.02,0) scale(0.78,1) translate(-645.02,0)">45</text>
<line x1="666.48" y1="488.6" x2="666.48" y2="621.6" stroke="#000" stroke-opacity="0.78" stroke-width="1.4"/>
<text x="666.48" y="630.60" class="ax" text-anchor="middle" transform="translate(666.48,0) scale(0.78,1) translate(-666.48,0)">50</text>
<line x1="687.94" y1="488.6" x2="687.94" y2="621.6" stroke="#000" stroke-opacity="0.78" stroke-width="1.4"/>
<text x="687.94" y="630.60" class="ax" text-anchor="middle" transform="translate(687.94,0) scale(0.78,1) translate(-687.94,0)">55</text>
<line x1="709.40" y1="488.6" x2="709.40" y2="621.6" stroke="#000" stroke-opacity="0.78" stroke-width="1.4"/>
<text x="709.40" y="630.60" class="ax" text-anchor="middle" transform="translate(709.40,0) scale(0.78,1) translate(-709.40,0)">60</text>
<text x="716.9" y="631.10" class="sm2">l/min</text>
<line x1="451.9" y1="634.6" x2="708.4" y2="634.6" stroke="#111" stroke-width="1.6"/>
<path d="M706.4,632.8000000000001 L709.9,634.6 L706.4,636.4 Z" fill="#111"/>
<line x1="451.90" y1="631.6" x2="451.90" y2="637.6" stroke="#111" stroke-width="1.1"/>
<text x="451.90" y="642.40" class="ax" text-anchor="middle" transform="translate(451.90,0) scale(0.78,1) translate(-451.90,0)">0</text>
<line x1="464.08" y1="633.1" x2="464.08" y2="636.1" stroke="#111" stroke-width="1.1"/>
<line x1="476.27" y1="631.6" x2="476.27" y2="637.6" stroke="#111" stroke-width="1.1"/>
<text x="476.27" y="642.40" class="ax" text-anchor="middle" transform="translate(476.27,0) scale(0.78,1) translate(-476.27,0)">1.5</text>
<line x1="488.45" y1="633.1" x2="488.45" y2="636.1" stroke="#111" stroke-width="1.1"/>
<line x1="500.64" y1="631.6" x2="500.64" y2="637.6" stroke="#111" stroke-width="1.1"/>
<text x="500.64" y="642.40" class="ax" text-anchor="middle" transform="translate(500.64,0) scale(0.78,1) translate(-500.64,0)">3</text>
<line x1="512.82" y1="633.1" x2="512.82" y2="636.1" stroke="#111" stroke-width="1.1"/>
<line x1="525.01" y1="631.6" x2="525.01" y2="637.6" stroke="#111" stroke-width="1.1"/>
<text x="525.01" y="642.40" class="ax" text-anchor="middle" transform="translate(525.01,0) scale(0.78,1) translate(-525.01,0)">4.5</text>
<line x1="537.19" y1="633.1" x2="537.19" y2="636.1" stroke="#111" stroke-width="1.1"/>
<line x1="549.37" y1="631.6" x2="549.37" y2="637.6" stroke="#111" stroke-width="1.1"/>
<text x="549.37" y="642.40" class="ax" text-anchor="middle" transform="translate(549.37,0) scale(0.78,1) translate(-549.37,0)">6</text>
<line x1="561.56" y1="633.1" x2="561.56" y2="636.1" stroke="#111" stroke-width="1.1"/>
<line x1="573.74" y1="631.6" x2="573.74" y2="637.6" stroke="#111" stroke-width="1.1"/>
<text x="573.74" y="642.40" class="ax" text-anchor="middle" transform="translate(573.74,0) scale(0.78,1) translate(-573.74,0)">7.5</text>
<line x1="585.93" y1="633.1" x2="585.93" y2="636.1" stroke="#111" stroke-width="1.1"/>
<line x1="598.11" y1="631.6" x2="598.11" y2="637.6" stroke="#111" stroke-width="1.1"/>
<text x="598.11" y="642.40" class="ax" text-anchor="middle" transform="translate(598.11,0) scale(0.78,1) translate(-598.11,0)">9</text>
<line x1="610.30" y1="633.1" x2="610.30" y2="636.1" stroke="#111" stroke-width="1.1"/>
<line x1="622.48" y1="631.6" x2="622.48" y2="637.6" stroke="#111" stroke-width="1.1"/>
<text x="622.48" y="642.40" class="ax" text-anchor="middle" transform="translate(622.48,0) scale(0.78,1) translate(-622.48,0)">10.5</text>
<line x1="634.66" y1="633.1" x2="634.66" y2="636.1" stroke="#111" stroke-width="1.1"/>
<line x1="646.85" y1="631.6" x2="646.85" y2="637.6" stroke="#111" stroke-width="1.1"/>
<text x="646.85" y="642.40" class="ax" text-anchor="middle" transform="translate(646.85,0) scale(0.78,1) translate(-646.85,0)">12</text>
<line x1="659.03" y1="633.1" x2="659.03" y2="636.1" stroke="#111" stroke-width="1.1"/>
<line x1="671.22" y1="631.6" x2="671.22" y2="637.6" stroke="#111" stroke-width="1.1"/>
<text x="671.22" y="642.40" class="ax" text-anchor="middle" transform="translate(671.22,0) scale(0.78,1) translate(-671.22,0)">13.5</text>
<line x1="683.40" y1="633.1" x2="683.40" y2="636.1" stroke="#111" stroke-width="1.1"/>
<line x1="695.59" y1="631.6" x2="695.59" y2="637.6" stroke="#111" stroke-width="1.1"/>
<text x="695.59" y="642.40" class="ax" text-anchor="middle" transform="translate(695.59,0) scale(0.78,1) translate(-695.59,0)">15</text>
<text x="717.9" y="643.60" class="sm2">gpm</text>
<line x1="420.7" y1="489.3" x2="420.7" y2="621.6" stroke="#111" stroke-width="1.8"/>
<line x1="417.7" y1="621.60" x2="423.7" y2="621.60" stroke="#111" stroke-width="1.1"/>
<text x="416.2" y="624.10" class="ax" text-anchor="end" transform="translate(416.20,0) scale(0.78,1) translate(-416.20,0)">0</text>
<line x1="419.2" y1="612.83" x2="422.2" y2="612.83" stroke="#111" stroke-width="1.1"/>
<line x1="417.7" y1="604.06" x2="423.7" y2="604.06" stroke="#111" stroke-width="1.1"/>
<text x="416.2" y="606.56" class="ax" text-anchor="end" transform="translate(416.20,0) scale(0.78,1) translate(-416.20,0)">500</text>
<line x1="419.2" y1="595.29" x2="422.2" y2="595.29" stroke="#111" stroke-width="1.1"/>
<line x1="417.7" y1="586.52" x2="423.7" y2="586.52" stroke="#111" stroke-width="1.1"/>
<text x="416.2" y="589.02" class="ax" text-anchor="end" transform="translate(416.20,0) scale(0.78,1) translate(-416.20,0)">1000</text>
<line x1="419.2" y1="577.75" x2="422.2" y2="577.75" stroke="#111" stroke-width="1.1"/>
<line x1="417.7" y1="568.97" x2="423.7" y2="568.97" stroke="#111" stroke-width="1.1"/>
<text x="416.2" y="571.47" class="ax" text-anchor="end" transform="translate(416.20,0) scale(0.78,1) translate(-416.20,0)">1500</text>
<line x1="419.2" y1="560.20" x2="422.2" y2="560.20" stroke="#111" stroke-width="1.1"/>
<line x1="417.7" y1="551.43" x2="423.7" y2="551.43" stroke="#111" stroke-width="1.1"/>
<text x="416.2" y="553.93" class="ax" text-anchor="end" transform="translate(416.20,0) scale(0.78,1) translate(-416.20,0)">2000</text>
<line x1="419.2" y1="542.66" x2="422.2" y2="542.66" stroke="#111" stroke-width="1.1"/>
<line x1="417.7" y1="533.89" x2="423.7" y2="533.89" stroke="#111" stroke-width="1.1"/>
<text x="416.2" y="536.39" class="ax" text-anchor="end" transform="translate(416.20,0) scale(0.78,1) translate(-416.20,0)">2500</text>
<line x1="419.2" y1="525.12" x2="422.2" y2="525.12" stroke="#111" stroke-width="1.1"/>
<line x1="417.7" y1="516.35" x2="423.7" y2="516.35" stroke="#111" stroke-width="1.1"/>
<text x="416.2" y="518.85" class="ax" text-anchor="end" transform="translate(416.20,0) scale(0.78,1) translate(-416.20,0)">3000</text>
<line x1="419.2" y1="507.58" x2="422.2" y2="507.58" stroke="#111" stroke-width="1.1"/>
<line x1="417.7" y1="498.81" x2="423.7" y2="498.81" stroke="#111" stroke-width="1.1"/>
<text x="416.2" y="501.31" class="ax" text-anchor="end" transform="translate(416.20,0) scale(0.78,1) translate(-416.20,0)">3500</text>
<line x1="419.2" y1="490.04" x2="422.2" y2="490.04" stroke="#111" stroke-width="1.1"/>
<path d="M451.90,508.89 C455.48,508.52 466.21,507.32 473.36,506.69 C480.51,506.06 487.66,505.56 494.82,505.09 C501.97,504.61 509.12,504.25 516.27,503.84 C523.43,503.43 530.58,503.08 537.73,502.64 C544.89,502.21 552.04,501.73 559.19,501.25 C566.34,500.76 573.50,500.19 580.65,499.74 C587.80,499.30 594.96,498.98 602.11,498.60 C609.26,498.22 616.41,497.88 623.57,497.45 C630.72,497.03 637.87,496.54 645.02,496.05 C652.18,495.57 659.33,495.13 666.48,494.55 C673.64,493.97 680.79,493.30 687.94,492.57 C695.09,491.84 705.82,490.57 709.40,490.17" fill="none" stroke="#0d0d0d" stroke-width="1.9" stroke-linejoin="round"/>
<path d="M451.90,539.37 C455.48,538.99 466.21,537.80 473.36,537.11 C480.51,536.41 487.66,535.78 494.82,535.19 C501.97,534.59 509.12,534.07 516.27,533.52 C523.43,532.97 530.58,532.42 537.73,531.90 C544.89,531.38 552.04,530.89 559.19,530.39 C566.34,529.89 573.50,529.41 580.65,528.90 C587.80,528.39 594.96,527.85 602.11,527.31 C609.26,526.77 616.41,526.26 623.57,525.64 C630.72,525.03 637.87,524.39 645.02,523.62 C652.18,522.86 659.33,521.91 666.48,521.05 C673.64,520.19 680.79,519.26 687.94,518.47 C695.09,517.68 705.82,516.68 709.40,516.32" fill="none" stroke="#0d0d0d" stroke-width="1.9" stroke-linejoin="round"/>
<path d="M451.90,555.60 C455.48,555.40 466.21,554.79 473.36,554.39 C480.51,554.00 487.66,553.68 494.82,553.25 C501.97,552.82 509.12,552.34 516.27,551.80 C523.43,551.26 530.58,550.59 537.73,550.02 C544.89,549.44 552.04,548.88 559.19,548.34 C566.34,547.80 573.50,547.36 580.65,546.79 C587.80,546.21 594.96,545.56 602.11,544.88 C609.26,544.20 616.41,543.46 623.57,542.70 C630.72,541.95 637.87,541.22 645.02,540.35 C652.18,539.48 659.33,538.45 666.48,537.50 C673.64,536.55 680.79,535.51 687.94,534.64 C695.09,533.76 705.82,532.65 709.40,532.25" fill="none" stroke="#0d0d0d" stroke-width="1.9" stroke-linejoin="round"/>
<path d="M451.90,586.44 C455.48,586.14 466.21,585.27 473.36,584.62 C480.51,583.96 487.66,583.29 494.82,582.51 C501.97,581.73 509.12,580.82 516.27,579.93 C523.43,579.03 530.58,578.00 537.73,577.13 C544.89,576.25 552.04,575.41 559.19,574.67 C566.34,573.93 573.50,573.43 580.65,572.69 C587.80,571.95 594.96,571.21 602.11,570.23 C609.26,569.25 616.41,568.01 623.57,566.82 C630.72,565.63 637.87,564.37 645.02,563.10 C652.18,561.82 659.33,560.50 666.48,559.15 C673.64,557.81 680.79,556.33 687.94,555.02 C695.09,553.71 705.82,551.90 709.40,551.28" fill="none" stroke="#0d0d0d" stroke-width="1.9" stroke-linejoin="round"/>
<path d="M451.90,610.76 C455.48,610.19 466.21,608.43 473.36,607.31 C480.51,606.19 487.66,605.18 494.82,604.04 C501.97,602.91 509.12,601.72 516.27,600.51 C523.43,599.30 530.58,597.93 537.73,596.77 C544.89,595.60 552.04,594.48 559.19,593.51 C566.34,592.54 573.50,591.85 580.65,590.93 C587.80,590.01 594.96,589.14 602.11,588.02 C609.26,586.89 616.41,585.59 623.57,584.19 C630.72,582.79 637.87,581.15 645.02,579.61 C652.18,578.06 659.33,576.39 666.48,574.93 C673.64,573.47 680.79,572.20 687.94,570.84 C695.09,569.49 705.82,567.47 709.40,566.80" fill="none" stroke="#0d0d0d" stroke-width="1.9" stroke-linejoin="round"/>
<path d="M469.07,621.60 C473.36,621.50 486.95,621.30 494.82,620.99 C502.68,620.68 509.12,620.31 516.27,619.76 C523.43,619.20 530.58,618.49 537.73,617.68 C544.89,616.87 552.04,615.87 559.19,614.91 C566.34,613.95 573.50,613.00 580.65,611.93 C587.80,610.87 594.96,609.75 602.11,608.51 C609.26,607.27 616.41,605.86 623.57,604.49 C630.72,603.12 637.87,601.72 645.02,600.28 C652.18,598.84 659.33,597.34 666.48,595.84 C673.64,594.34 680.79,592.76 687.94,591.26 C695.09,589.76 705.82,587.58 709.40,586.85" fill="none" stroke="#0d0d0d" stroke-width="1.9" stroke-linejoin="round"/>
<text x="0" y="0" font-size="9.7" fill="#161616" stroke="#161616" stroke-width="0.3" text-anchor="middle" transform="translate(393.2,553.50) rotate(-90)">Δp [bar]</text>
<text x="583.5" y="687.60" font-size="9.6" fill="#161616" text-anchor="middle">Q [l/min]</text>
<text x="390" y="804.2" font-size="11" fill="#161616">Einstelldruckbereich 5000 psi (345 bar)</text>
<text x="412.5" y="849" class="sm">psi</text>
<text x="437.7" y="848" class="sm">bar</text>
<line x1="446.7" y1="987.60" x2="708.4" y2="987.60" stroke="#000" stroke-opacity="0.9" stroke-width="1.7"/>
<text x="445.2" y="990.10" class="ax" text-anchor="end" transform="translate(445.20,0) scale(0.78,1) translate(-445.20,0)">0</text>
<line x1="446.7" y1="975.55" x2="708.4" y2="975.55" stroke="#000" stroke-opacity="0.66" stroke-width="1.5"/>
<text x="445.2" y="978.05" class="ax" text-anchor="end" transform="translate(445.20,0) scale(0.78,1) translate(-445.20,0)">30</text>
<line x1="446.7" y1="963.49" x2="708.4" y2="963.49" stroke="#000" stroke-opacity="0.66" stroke-width="1.5"/>
<text x="445.2" y="965.99" class="ax" text-anchor="end" transform="translate(445.20,0) scale(0.78,1) translate(-445.20,0)">60</text>
<line x1="446.7" y1="951.44" x2="708.4" y2="951.44" stroke="#000" stroke-opacity="0.66" stroke-width="1.5"/>
<text x="445.2" y="953.94" class="ax" text-anchor="end" transform="translate(445.20,0) scale(0.78,1) translate(-445.20,0)">90</text>
<line x1="446.7" y1="939.38" x2="708.4" y2="939.38" stroke="#000" stroke-opacity="0.66" stroke-width="1.5"/>
<text x="445.2" y="941.88" class="ax" text-anchor="end" transform="translate(445.20,0) scale(0.78,1) translate(-445.20,0)">120</text>
<line x1="446.7" y1="927.33" x2="708.4" y2="927.33" stroke="#000" stroke-opacity="0.66" stroke-width="1.5"/>
<text x="445.2" y="929.83" class="ax" text-anchor="end" transform="translate(445.20,0) scale(0.78,1) translate(-445.20,0)">150</text>
<line x1="446.7" y1="915.27" x2="708.4" y2="915.27" stroke="#000" stroke-opacity="0.66" stroke-width="1.5"/>
<text x="445.2" y="917.77" class="ax" text-anchor="end" transform="translate(445.20,0) scale(0.78,1) translate(-445.20,0)">180</text>
<line x1="446.7" y1="903.22" x2="708.4" y2="903.22" stroke="#000" stroke-opacity="0.66" stroke-width="1.5"/>
<text x="445.2" y="905.72" class="ax" text-anchor="end" transform="translate(445.20,0) scale(0.78,1) translate(-445.20,0)">210</text>
<line x1="446.7" y1="891.16" x2="708.4" y2="891.16" stroke="#000" stroke-opacity="0.66" stroke-width="1.5"/>
<text x="445.2" y="893.66" class="ax" text-anchor="end" transform="translate(445.20,0) scale(0.78,1) translate(-445.20,0)">240</text>
<line x1="446.7" y1="879.11" x2="708.4" y2="879.11" stroke="#000" stroke-opacity="0.66" stroke-width="1.5"/>
<text x="445.2" y="881.61" class="ax" text-anchor="end" transform="translate(445.20,0) scale(0.78,1) translate(-445.20,0)">270</text>
<line x1="446.7" y1="867.05" x2="708.4" y2="867.05" stroke="#000" stroke-opacity="0.66" stroke-width="1.5"/>
<text x="445.2" y="869.55" class="ax" text-anchor="end" transform="translate(445.20,0) scale(0.78,1) translate(-445.20,0)">300</text>
<line x1="446.7" y1="855.00" x2="708.4" y2="855.00" stroke="#000" stroke-opacity="0.66" stroke-width="1.5"/>
<text x="445.2" y="857.50" class="ax" text-anchor="end" transform="translate(445.20,0) scale(0.78,1) translate(-445.20,0)">330</text>
<line x1="450.20" y1="854.3" x2="450.20" y2="987.6" stroke="#000" stroke-opacity="0.92" stroke-width="1.8"/>
<text x="450.20" y="996.60" class="ax" text-anchor="middle" transform="translate(450.20,0) scale(0.78,1) translate(-450.20,0)">0</text>
<line x1="471.72" y1="854.3" x2="471.72" y2="987.6" stroke="#000" stroke-opacity="0.78" stroke-width="1.4"/>
<text x="471.72" y="996.60" class="ax" text-anchor="middle" transform="translate(471.72,0) scale(0.78,1) translate(-471.72,0)">5</text>
<line x1="493.23" y1="854.3" x2="493.23" y2="987.6" stroke="#000" stroke-opacity="0.78" stroke-width="1.4"/>
<text x="493.23" y="996.60" class="ax" text-anchor="middle" transform="translate(493.23,0) scale(0.78,1) translate(-493.23,0)">10</text>
<line x1="514.75" y1="854.3" x2="514.75" y2="987.6" stroke="#000" stroke-opacity="0.78" stroke-width="1.4"/>
<text x="514.75" y="996.60" class="ax" text-anchor="middle" transform="translate(514.75,0) scale(0.78,1) translate(-514.75,0)">15</text>
<line x1="536.27" y1="854.3" x2="536.27" y2="987.6" stroke="#000" stroke-opacity="0.78" stroke-width="1.4"/>
<text x="536.27" y="996.60" class="ax" text-anchor="middle" transform="translate(536.27,0) scale(0.78,1) translate(-536.27,0)">20</text>
<line x1="557.78" y1="854.3" x2="557.78" y2="987.6" stroke="#000" stroke-opacity="0.78" stroke-width="1.4"/>
<text x="557.78" y="996.60" class="ax" text-anchor="middle" transform="translate(557.78,0) scale(0.78,1) translate(-557.78,0)">25</text>
<line x1="579.30" y1="854.3" x2="579.30" y2="987.6" stroke="#000" stroke-opacity="0.78" stroke-width="1.4"/>
<text x="579.30" y="996.60" class="ax" text-anchor="middle" transform="translate(579.30,0) scale(0.78,1) translate(-579.30,0)">30</text>
<line x1="600.82" y1="854.3" x2="600.82" y2="987.6" stroke="#000" stroke-opacity="0.78" stroke-width="1.4"/>
<text x="600.82" y="996.60" class="ax" text-anchor="middle" transform="translate(600.82,0) scale(0.78,1) translate(-600.82,0)">35</text>
<line x1="622.33" y1="854.3" x2="622.33" y2="987.6" stroke="#000" stroke-opacity="0.78" stroke-width="1.4"/>
<text x="622.33" y="996.60" class="ax" text-anchor="middle" transform="translate(622.33,0) scale(0.78,1) translate(-622.33,0)">40</text>
<line x1="643.85" y1="854.3" x2="643.85" y2="987.6" stroke="#000" stroke-opacity="0.78" stroke-width="1.4"/>
<text x="643.85" y="996.60" class="ax" text-anchor="middle" transform="translate(643.85,0) scale(0.78,1) translate(-643.85,0)">45</text>
<line x1="665.37" y1="854.3" x2="665.37" y2="987.6" stroke="#000" stroke-opacity="0.78" stroke-width="1.4"/>
<text x="665.37" y="996.60" class="ax" text-anchor="middle" transform="translate(665.37,0) scale(0.78,1) translate(-665.37,0)">50</text>
<line x1="686.88" y1="854.3" x2="686.88" y2="987.6" stroke="#000" stroke-opacity="0.78" stroke-width="1.4"/>
<text x="686.88" y="996.60" class="ax" text-anchor="middle" transform="translate(686.88,0) scale(0.78,1) translate(-686.88,0)">55</text>
<line x1="708.40" y1="854.3" x2="708.40" y2="987.6" stroke="#000" stroke-opacity="0.78" stroke-width="1.4"/>
<text x="708.40" y="996.60" class="ax" text-anchor="middle" transform="translate(708.40,0) scale(0.78,1) translate(-708.40,0)">60</text>
<text x="715.9" y="997.10" class="sm2">l/min</text>
<line x1="450.2" y1="1000.6" x2="707.4" y2="1000.6" stroke="#111" stroke-width="1.6"/>
<path d="M705.4,998.8000000000001 L708.9,1000.6 L705.4,1002.4 Z" fill="#111"/>
<line x1="450.20" y1="997.6" x2="450.20" y2="1003.6" stroke="#111" stroke-width="1.1"/>
<text x="450.20" y="1008.40" class="ax" text-anchor="middle" transform="translate(450.20,0) scale(0.78,1) translate(-450.20,0)">0</text>
<line x1="462.42" y1="999.1" x2="462.42" y2="1002.1" stroke="#111" stroke-width="1.1"/>
<line x1="474.63" y1="997.6" x2="474.63" y2="1003.6" stroke="#111" stroke-width="1.1"/>
<text x="474.63" y="1008.40" class="ax" text-anchor="middle" transform="translate(474.63,0) scale(0.78,1) translate(-474.63,0)">1.5</text>
<line x1="486.85" y1="999.1" x2="486.85" y2="1002.1" stroke="#111" stroke-width="1.1"/>
<line x1="499.07" y1="997.6" x2="499.07" y2="1003.6" stroke="#111" stroke-width="1.1"/>
<text x="499.07" y="1008.40" class="ax" text-anchor="middle" transform="translate(499.07,0) scale(0.78,1) translate(-499.07,0)">3</text>
<line x1="511.29" y1="999.1" x2="511.29" y2="1002.1" stroke="#111" stroke-width="1.1"/>
<line x1="523.50" y1="997.6" x2="523.50" y2="1003.6" stroke="#111" stroke-width="1.1"/>
<text x="523.50" y="1008.40" class="ax" text-anchor="middle" transform="translate(523.50,0) scale(0.78,1) translate(-523.50,0)">4.5</text>
<line x1="535.72" y1="999.1" x2="535.72" y2="1002.1" stroke="#111" stroke-width="1.1"/>
<line x1="547.94" y1="997.6" x2="547.94" y2="1003.6" stroke="#111" stroke-width="1.1"/>
<text x="547.94" y="1008.40" class="ax" text-anchor="middle" transform="translate(547.94,0) scale(0.78,1) translate(-547.94,0)">6</text>
<line x1="560.16" y1="999.1" x2="560.16" y2="1002.1" stroke="#111" stroke-width="1.1"/>
<line x1="572.37" y1="997.6" x2="572.37" y2="1003.6" stroke="#111" stroke-width="1.1"/>
<text x="572.37" y="1008.40" class="ax" text-anchor="middle" transform="translate(572.37,0) scale(0.78,1) translate(-572.37,0)">7.5</text>
<line x1="584.59" y1="999.1" x2="584.59" y2="1002.1" stroke="#111" stroke-width="1.1"/>
<line x1="596.81" y1="997.6" x2="596.81" y2="1003.6" stroke="#111" stroke-width="1.1"/>
<text x="596.81" y="1008.40" class="ax" text-anchor="middle" transform="translate(596.81,0) scale(0.78,1) translate(-596.81,0)">9</text>
<line x1="609.03" y1="999.1" x2="609.03" y2="1002.1" stroke="#111" stroke-width="1.1"/>
<line x1="621.24" y1="997.6" x2="621.24" y2="1003.6" stroke="#111" stroke-width="1.1"/>
<text x="621.24" y="1008.40" class="ax" text-anchor="middle" transform="translate(621.24,0) scale(0.78,1) translate(-621.24,0)">10.5</text>
<line x1="633.46" y1="999.1" x2="633.46" y2="1002.1" stroke="#111" stroke-width="1.1"/>
<line x1="645.68" y1="997.6" x2="645.68" y2="1003.6" stroke="#111" stroke-width="1.1"/>
<text x="645.68" y="1008.40" class="ax" text-anchor="middle" transform="translate(645.68,0) scale(0.78,1) translate(-645.68,0)">12</text>
<line x1="657.90" y1="999.1" x2="657.90" y2="1002.1" stroke="#111" stroke-width="1.1"/>
<line x1="670.11" y1="997.6" x2="670.11" y2="1003.6" stroke="#111" stroke-width="1.1"/>
<text x="670.11" y="1008.40" class="ax" text-anchor="middle" transform="translate(670.11,0) scale(0.78,1) translate(-670.11,0)">13.5</text>
<line x1="682.33" y1="999.1" x2="682.33" y2="1002.1" stroke="#111" stroke-width="1.1"/>
<line x1="694.55" y1="997.6" x2="694.55" y2="1003.6" stroke="#111" stroke-width="1.1"/>
<text x="694.55" y="1008.40" class="ax" text-anchor="middle" transform="translate(694.55,0) scale(0.78,1) translate(-694.55,0)">15</text>
<text x="716.9" y="1009.60" class="sm2">gpm</text>
<line x1="419.7" y1="855" x2="419.7" y2="987.6" stroke="#111" stroke-width="1.8"/>
<line x1="416.7" y1="987.60" x2="422.7" y2="987.60" stroke="#111" stroke-width="1.1"/>
<text x="415.2" y="990.10" class="ax" text-anchor="end" transform="translate(415.20,0) scale(0.78,1) translate(-415.20,0)">0</text>
<line x1="418.2" y1="980.67" x2="421.2" y2="980.67" stroke="#111" stroke-width="1.1"/>
<line x1="416.7" y1="973.75" x2="422.7" y2="973.75" stroke="#111" stroke-width="1.1"/>
<text x="415.2" y="976.25" class="ax" text-anchor="end" transform="translate(415.20,0) scale(0.78,1) translate(-415.20,0)">500</text>
<line x1="418.2" y1="966.82" x2="421.2" y2="966.82" stroke="#111" stroke-width="1.1"/>
<line x1="416.7" y1="959.90" x2="422.7" y2="959.90" stroke="#111" stroke-width="1.1"/>
<text x="415.2" y="962.40" class="ax" text-anchor="end" transform="translate(415.20,0) scale(0.78,1) translate(-415.20,0)">1000</text>
<line x1="418.2" y1="952.97" x2="421.2" y2="952.97" stroke="#111" stroke-width="1.1"/>
<line x1="416.7" y1="946.04" x2="422.7" y2="946.04" stroke="#111" stroke-width="1.1"/>
<text x="415.2" y="948.54" class="ax" text-anchor="end" transform="translate(415.20,0) scale(0.78,1) translate(-415.20,0)">1500</text>
<line x1="418.2" y1="939.12" x2="421.2" y2="939.12" stroke="#111" stroke-width="1.1"/>
<line x1="416.7" y1="932.19" x2="422.7" y2="932.19" stroke="#111" stroke-width="1.1"/>
<text x="415.2" y="934.69" class="ax" text-anchor="end" transform="translate(415.20,0) scale(0.78,1) translate(-415.20,0)">2000</text>
<line x1="418.2" y1="925.27" x2="421.2" y2="925.27" stroke="#111" stroke-width="1.1"/>
<line x1="416.7" y1="918.34" x2="422.7" y2="918.34" stroke="#111" stroke-width="1.1"/>
<text x="415.2" y="920.84" class="ax" text-anchor="end" transform="translate(415.20,0) scale(0.78,1) translate(-415.20,0)">2500</text>
<line x1="418.2" y1="911.41" x2="421.2" y2="911.41" stroke="#111" stroke-width="1.1"/>
<line x1="416.7" y1="904.49" x2="422.7" y2="904.49" stroke="#111" stroke-width="1.1"/>
<text x="415.2" y="906.99" class="ax" text-anchor="end" transform="translate(415.20,0) scale(0.78,1) translate(-415.20,0)">3000</text>
<line x1="418.2" y1="897.56" x2="421.2" y2="897.56" stroke="#111" stroke-width="1.1"/>
<line x1="416.7" y1="890.63" x2="422.7" y2="890.63" stroke="#111" stroke-width="1.1"/>
<text x="415.2" y="893.13" class="ax" text-anchor="end" transform="translate(415.20,0) scale(0.78,1) translate(-415.20,0)">3500</text>
<line x1="418.2" y1="883.71" x2="421.2" y2="883.71" stroke="#111" stroke-width="1.1"/>
<line x1="416.7" y1="876.78" x2="422.7" y2="876.78" stroke="#111" stroke-width="1.1"/>
<text x="415.2" y="879.28" class="ax" text-anchor="end" transform="translate(415.20,0) scale(0.78,1) translate(-415.20,0)">4000</text>
<line x1="418.2" y1="869.86" x2="421.2" y2="869.86" stroke="#111" stroke-width="1.1"/>
<line x1="416.7" y1="862.93" x2="422.7" y2="862.93" stroke="#111" stroke-width="1.1"/>
<text x="415.2" y="865.43" class="ax" text-anchor="end" transform="translate(415.20,0) scale(0.78,1) translate(-415.20,0)">4500</text>
<line x1="418.2" y1="856.00" x2="421.2" y2="856.00" stroke="#111" stroke-width="1.1"/>
<path d="M450.20,878.71 C451.06,878.68 453.21,878.90 455.36,878.55 C457.52,878.19 460.38,877.02 463.11,876.58 C465.84,876.14 466.70,876.16 471.72,875.89 C476.74,875.63 486.06,875.29 493.23,874.98 C500.41,874.67 507.58,874.34 514.75,874.03 C521.92,873.71 529.09,873.40 536.27,873.09 C543.44,872.78 550.61,872.50 557.78,872.17 C564.96,871.84 572.13,871.49 579.30,871.12 C586.47,870.75 593.64,870.33 600.82,869.96 C607.99,869.59 615.16,869.23 622.33,868.91 C629.51,868.59 636.68,868.33 643.85,868.03 C651.02,867.73 658.19,867.43 665.37,867.12 C672.54,866.82 679.71,866.51 686.88,866.20 C694.06,865.89 704.81,865.44 708.40,865.29" fill="none" stroke="#0d0d0d" stroke-width="1.9" stroke-linejoin="round"/>
<path d="M450.20,903.94 C453.79,903.60 464.54,902.52 471.72,901.91 C478.89,901.30 486.06,900.79 493.23,900.28 C500.41,899.78 507.58,899.33 514.75,898.88 C521.92,898.42 529.09,897.96 536.27,897.55 C543.44,897.15 550.61,896.79 557.78,896.46 C564.96,896.12 572.13,895.85 579.30,895.53 C586.47,895.21 593.64,894.87 600.82,894.53 C607.99,894.19 615.16,893.84 622.33,893.50 C629.51,893.17 636.68,892.90 643.85,892.50 C651.02,892.10 658.19,891.67 665.37,891.11 C672.54,890.55 679.71,889.87 686.88,889.13 C694.06,888.40 704.81,887.11 708.40,886.70" fill="none" stroke="#0d0d0d" stroke-width="1.9" stroke-linejoin="round"/>
<path d="M450.20,925.04 C453.79,924.80 464.54,924.07 471.72,923.60 C478.89,923.13 486.06,922.68 493.23,922.20 C500.41,921.73 507.58,921.23 514.75,920.75 C521.92,920.26 529.09,919.75 536.27,919.29 C543.44,918.83 550.61,918.40 557.78,917.99 C564.96,917.57 572.13,917.20 579.30,916.79 C586.47,916.38 593.64,915.97 600.82,915.54 C607.99,915.12 615.16,914.72 622.33,914.24 C629.51,913.75 636.68,913.29 643.85,912.64 C651.02,912.00 658.19,911.20 665.37,910.37 C672.54,909.54 679.71,908.56 686.88,907.64 C694.06,906.71 704.81,905.29 708.40,904.83" fill="none" stroke="#0d0d0d" stroke-width="1.9" stroke-linejoin="round"/>
<path d="M450.20,955.29 C453.79,954.99 464.54,954.08 471.72,953.46 C478.89,952.83 486.06,952.22 493.23,951.57 C500.41,950.91 507.58,950.23 514.75,949.54 C521.92,948.84 529.09,948.07 536.27,947.39 C543.44,946.71 550.61,946.06 557.78,945.45 C564.96,944.84 572.13,944.33 579.30,943.71 C586.47,943.10 593.64,942.48 600.82,941.75 C607.99,941.03 615.16,940.20 622.33,939.36 C629.51,938.52 636.68,937.62 643.85,936.73 C651.02,935.84 658.19,934.96 665.37,934.01 C672.54,933.06 679.71,932.06 686.88,931.03 C694.06,930.01 704.81,928.38 708.40,927.85" fill="none" stroke="#0d0d0d" stroke-width="1.9" stroke-linejoin="round"/>
<path d="M450.20,974.58 C453.79,974.03 464.54,972.33 471.72,971.25 C478.89,970.16 486.06,969.11 493.23,968.09 C500.41,967.07 507.58,966.10 514.75,965.13 C521.92,964.16 529.09,963.15 536.27,962.28 C543.44,961.40 550.61,960.60 557.78,959.87 C564.96,959.15 572.13,958.63 579.30,957.94 C586.47,957.24 593.64,956.51 600.82,955.69 C607.99,954.86 615.16,953.91 622.33,952.97 C629.51,952.04 636.68,951.10 643.85,950.07 C651.02,949.04 658.19,947.94 665.37,946.79 C672.54,945.63 679.71,944.38 686.88,943.16 C694.06,941.94 704.81,940.08 708.40,939.46" fill="none" stroke="#0d0d0d" stroke-width="1.9" stroke-linejoin="round"/>
<path d="M467.41,987.60 C471.72,987.42 485.34,986.98 493.23,986.52 C501.12,986.05 507.58,985.51 514.75,984.82 C521.92,984.13 529.09,983.27 536.27,982.39 C543.44,981.51 550.61,980.47 557.78,979.54 C564.96,978.62 572.13,977.73 579.30,976.84 C586.47,975.96 593.64,975.16 600.82,974.24 C607.99,973.32 615.16,972.36 622.33,971.35 C629.51,970.34 636.68,969.29 643.85,968.17 C651.02,967.06 658.19,965.88 665.37,964.67 C672.54,963.46 679.71,962.16 686.88,960.91 C694.06,959.66 704.81,957.80 708.40,957.18" fill="none" stroke="#0d0d0d" stroke-width="1.9" stroke-linejoin="round"/>
<text x="0" y="0" font-size="9.7" fill="#161616" stroke="#161616" stroke-width="0.3" text-anchor="middle" transform="translate(393.2,918.10) rotate(-90)">Δp [bar]</text>
<text x="583.5" y="1053.60" font-size="9.6" fill="#161616" text-anchor="middle">Q [l/min]</text>
</svg>
</body></html>
